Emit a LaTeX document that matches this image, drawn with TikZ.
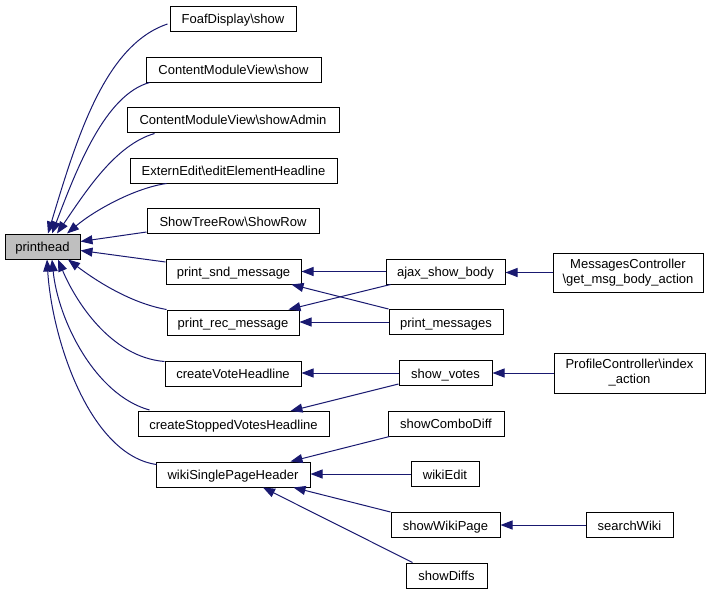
\documentclass[tikz,border=0pt]{standalone}
\usepackage{fontspec}
\setmainfont{Liberation Sans}
\usetikzlibrary{arrows.meta,calc}
\definecolor{edgeblue}{HTML}{191970}
\definecolor{phgray}{HTML}{BFBFBF}
\begin{document}
\begin{tikzpicture}[x=1pt,y=-1pt,
  basebox/.style={draw=black,line width=1pt,fill=white,inner sep=0pt,minimum height=25pt,
    font=\fontsize{13}{15}\selectfont},
  box/.style={basebox,text height=10.5pt,text depth=0pt},
  multibox/.style={basebox,align=center},
  edge/.style={draw=edgeblue,line width=1pt,-{Triangle[length=12pt,width=9pt,fill=edgeblue]}}]
\useasboundingbox (0,0) rectangle (712,595);
% column 1
\node[box,fill=phgray,minimum width=75pt] (ph) at (42.5,246.5) {printhead};
% column 2
\node[box,minimum width=126pt] (foaf) at (233,18.5) {FoafDisplay\textbackslash show};
\node[box,minimum width=175pt] (cmvs) at (233.5,69.5) {ContentModuleView\textbackslash show};
\node[box,minimum width=212pt] (cmva) at (233,119.5) {ContentModuleView\textbackslash showAdmin};
\node[box,minimum width=207pt] (ext) at (233.5,170.5) {ExternEdit\textbackslash editElementHeadline};
\node[box,minimum width=172pt] (str) at (233,221) {ShowTreeRow\textbackslash ShowRow};
\node[box,minimum width=135pt] (snd) at (233.5,271.5) {print\_snd\_message};
\node[box,minimum width=132pt] (rec) at (233,322.5) {print\_rec\_message};
\node[box,minimum width=136pt] (vote) at (233,373.5) {createVoteHeadline};
\node[box,minimum width=191pt] (stop) at (233.5,424) {createStoppedVotesHeadline};
\node[box,minimum width=154pt] (wsph) at (233,474.5) {wikiSinglePageHeader};
% column 3
\node[box,minimum width=119pt] (ajax) at (445.5,271.5) {ajax\_show\_body};
\node[box,minimum width=114pt] (pm) at (446,322) {print\_messages};
\node[box,minimum width=93pt] (sv) at (445.5,373) {show\_votes};
\node[box,minimum width=116pt] (scd) at (446,423.5) {showComboDiff};
\node[box,minimum width=68pt] (we) at (445,474) {wikiEdit};
\node[box,minimum width=109pt] (swp) at (445.5,525) {showWikiPage};
\node[box,minimum width=81pt] (sd) at (446.5,575.5) {showDiffs};
% column 4
\node[multibox,minimum width=150pt,minimum height=39pt] (mc) at (628,272.5) {MessagesController\\\textbackslash get\_msg\_body\_action};
\node[multibox,minimum width=151pt,minimum height=40pt] (pc) at (629.5,373) {ProfileController\textbackslash index\\\_action};
\node[box,minimum width=87pt] (sw) at (629.5,525) {searchWiki};
% edges into printhead
\draw[edge] ($(foaf.west)+(-2,5.5)$) .. controls (105,45) and (77,137) .. ($(ph.north)+(5.5,0)$);
\draw[edge] ($(cmvs.south west)+(4,0)$) .. controls (105,95) and (77,168) .. ($(ph.north)+(9.5,0)$);
\draw[edge] ($(cmva.south west)+(28,1)$) .. controls (115,145) and (85.5,192) .. ($(ph.north)+(14.5,0)$);
\draw[edge] ($(ext.south west)+(37,0)$) .. controls (135,188) and (95,210) .. ($(ph.north)+(24.5,0)$);
\draw[edge] ($(str.west)+(0,11)$) -- ($(ph.east)+(0,-5)$);
\draw[edge] ($(snd.west)+(0,-9.5)$) -- ($(ph.east)+(0,4)$);
\draw[edge] (rec.north west) .. controls (130,303) and (95,280) .. ($(ph.south)+(25.5,0)$);
\draw[edge] ($(vote.north west)+(0,1)$) .. controls (110,357) and (75,300) .. ($(ph.south)+(15.5,0)$);
\draw[edge] ($(stop.north west)+(12,-1)$) .. controls (95,395) and (58,320) .. ($(ph.south)+(9.5,0)$);
\draw[edge] ($(wsph.north west)+(1,3)$) .. controls (90,455) and (52,340) .. ($(ph.south)+(4.5,0)$);
% column 3 -> column 2
\draw[edge] (ajax.west) -- (snd.east);
\draw[edge] ($(ajax.south west)+(5,0)$) -- ($(rec.north east)+(-11,0)$);
\draw[edge] (pm.north west) -- ($(snd.south east)+(-10,0)$);
\draw[edge] (pm.west) -- (pm.west -| rec.east);
\draw[edge] (sv.west) -- (sv.west -| vote.east);
\draw[edge] ($(sv.south west)+(0,-2)$) -- ($(stop.north east)+(-39,0)$);
\draw[edge] ($(scd.south west)+(2,0)$) -- ($(wsph.north east)+(-20,0)$);
\draw[edge] (we.west) -- (we.west -| wsph.east);
\draw[edge] (swp.north west) -- ($(wsph.south east)+(-17,0)$);
\draw[edge] ($(sd.north west)+(7,0)$) -- ($(wsph.south)+(30,0)$);
% column 4 -> column 3
\draw[edge] (mc.west) -- (mc.west -| ajax.east);
\draw[edge] (pc.west) -- (pc.west -| sv.east);
\draw[edge] (sw.west) -- (swp.east);
\end{tikzpicture}
\end{document}
